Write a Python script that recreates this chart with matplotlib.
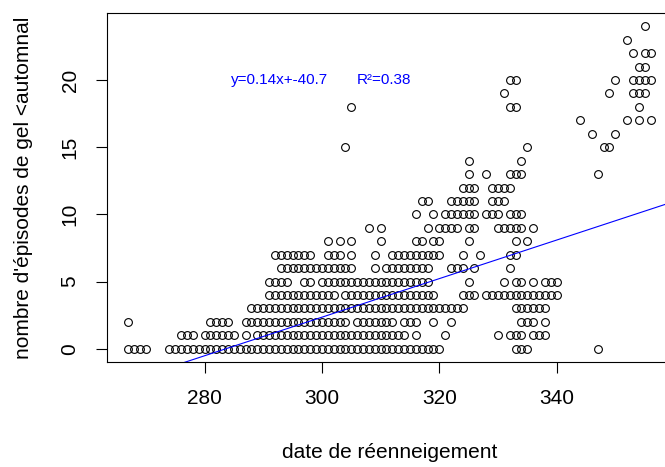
import numpy as np
import matplotlib
matplotlib.use('Agg')
import matplotlib.pyplot as plt

plt.rcParams['font.family'] = ['Liberation Sans', 'DejaVu Sans']

# date de réenneigement (jour) pour chaque nombre d'épisodes de gel
row_0 = [267, 268, 269, 270, 274, 275, 276, 277, 278, 279, 280, 281, 282, 283, 284,
         285, 286, 287, 288, 289, 290, 291, 292, 293, 294, 295, 296, 297, 298, 299,
         300, 301, 302, 303, 304, 305, 306, 307, 308, 309, 310, 311, 312, 313, 314,
         315, 316, 317, 318, 319, 320, 333, 334, 335, 347]
row_1 = [276, 277, 278, 280, 281, 282, 283, 284, 285, 287, 289, 290, 291, 292, 293,
         294, 295, 296, 297, 298, 299, 300, 301, 302, 303, 304, 305, 306, 307, 308,
         309, 310, 311, 312, 313, 314, 316, 321, 330, 332, 333, 334, 336, 337, 338]
row_2 = [267, 281, 282, 283, 284, 287, 288, 289, 290, 291, 292, 293, 294, 295, 296,
         297, 298, 299, 300, 301, 302, 303, 304, 306, 307, 308, 309, 310, 311, 312,
         314, 315, 316, 319, 322, 334, 335, 336, 338]
row_3 = [288, 289, 290, 291, 292, 293, 294, 295, 296, 297, 298, 299, 300, 301, 302,
         303, 304, 305, 306, 307, 308, 309, 310, 311, 312, 313, 314, 315, 316, 317,
         318, 319, 320, 321, 322, 323, 324, 333, 334, 335, 336, 337, 338]
row_4 = [291, 292, 293, 294, 295, 296, 297, 298, 299, 300, 301, 302, 304, 305, 306,
         307, 308, 309, 310, 311, 312, 313, 314, 315, 316, 317, 318, 319, 324, 325,
         326, 328, 329, 330, 331, 332, 333, 334, 335, 336, 337, 338, 339, 340]
row_5 = [291, 292, 293, 294, 297, 298, 300, 301, 302, 303, 304, 305, 306, 307, 308,
         309, 310, 311, 312, 313, 314, 315, 316, 317, 318, 325, 331, 333, 334, 336,
         338, 339, 340]
row_6 = [293, 294, 295, 296, 297, 298, 299, 300, 301, 302, 303, 304, 305, 309, 311,
         312, 313, 314, 315, 316, 317, 318, 322, 323, 324, 326, 332]
row_7 = [292, 293, 294, 295, 296, 297, 298, 301, 302, 303, 305, 309, 312, 313, 314,
         315, 316, 317, 318, 319, 320, 324, 327, 332, 333]
row_8 = [301, 303, 305, 310, 316, 317, 319, 320, 325, 333, 335]
row_9 = [308, 310, 318, 320, 321, 322, 323, 325, 326, 330, 331, 332, 333, 334, 336]
row_10 = [316, 319, 321, 322, 323, 324, 325, 326, 328, 329, 330, 332, 333, 334]
row_11 = [317, 318, 322, 323, 324, 325, 326, 329, 330, 331]
row_12 = [324, 325, 326, 329, 330, 331, 332]
row_13 = [325, 328, 332, 333, 334, 347]
row_14 = [325, 334]
row_15 = [304, 335, 348, 349]
row_16 = [346, 350]
row_17 = [344, 352, 354, 356]
row_18 = [305, 332, 333, 354]
row_19 = [331, 349, 353, 354, 355]
row_20 = [332, 333, 350, 353, 354, 355, 356]
row_21 = [354, 355]
row_22 = [353, 355, 356]
row_23 = [352]
row_24 = [355]

rows = [row_0, row_1, row_2, row_3, row_4, row_5, row_6, row_7, row_8, row_9,
        row_10, row_11, row_12, row_13, row_14, row_15, row_16, row_17, row_18,
        row_19, row_20, row_21, row_22, row_23, row_24]

slope = 0.1435
intercept = -40.7
eq_text = "y=0.14x+-40.7"
r2_text = "R²=0.38"

x = []
y = []
for n, dates in enumerate(rows):
    x += dates
    y += [n] * len(dates)
x = np.array(x)
y = np.array(y)

fig = plt.figure(figsize=(6.65, 4.67), dpi=100)
ax = fig.add_axes([0.1614, 0.2255, 0.8483, 0.746])

ax.plot(x, y, 'o', ls='none', mfc='none', mec='black', ms=5.6, mew=0.8)

# R-like 4% padding
rx = x.max() - x.min()
ry = y.max() - y.min()
ax.set_xlim(x.min() - 0.04 * rx, x.max() + 0.04 * rx)
ax.set_ylim(y.min() - 0.04 * ry, y.max() + 0.04 * ry)

xs = np.array(ax.get_xlim())
ax.plot(xs, intercept + slope * xs, color='blue', lw=0.8)

ax.text(292.7, 20, eq_text, color='blue', fontsize=11, ha='center', va='center')
ax.text(310.6, 20, r2_text, color='blue', fontsize=11, ha='center', va='center')

ax.set_xticks([280, 300, 320, 340])
ax.set_yticks([0, 5, 10, 15, 20])
ax.tick_params(length=8, width=0.8, labelsize=15, pad=12, direction='out')
ax.tick_params(axis='y', labelrotation=90)
for lab in ax.get_yticklabels():
    lab.set_va('center')
for s in ax.spines.values():
    s.set_linewidth(0.8)

ax.set_xlabel('date de réenneigement', fontsize=15, va='center')
ax.set_ylabel("nombre d'épisodes de gel <automnal", fontsize=15, va='center')
ax.xaxis.set_label_coords(0.5, -0.262)
ax.yaxis.set_label_coords(-0.1494, 0.5)

fig.savefig('out.png', dpi=100)
